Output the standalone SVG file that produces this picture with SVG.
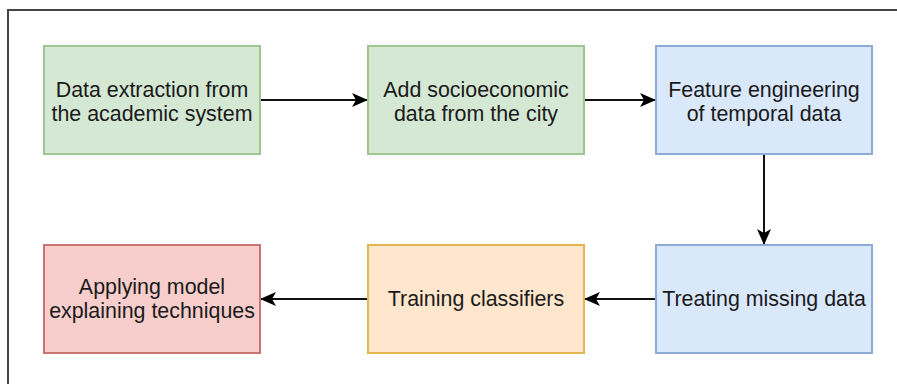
<svg xmlns="http://www.w3.org/2000/svg" width="897" height="384" viewBox="0 0 897 384">
  <style>
    .box { stroke-width: 2; }
    .green { fill: #d5e8d4; stroke: #9cc78f; }
    .blue { fill: #dae8fc; stroke: #8eaad6; }
    .orange { fill: #ffe6cc; stroke: #e3b652; }
    .red { fill: #f8cecc; stroke: #c97672; }
    .label { font-family: "Liberation Sans", Arial, sans-serif; font-size: 21.4px; fill: #1a1a1a; text-anchor: middle; }
    .edge { fill: none; stroke: #111; stroke-width: 2; marker-end: url(#arrow); }
    .frame { fill: none; stroke: #444; stroke-width: 2; }
  </style>
  <defs>
    <marker id="arrow" viewBox="0 0 16 14" refX="15" refY="7" markerWidth="16" markerHeight="14" markerUnits="userSpaceOnUse" orient="auto">
      <path d="M0,0 L16,7 L0,14 L4,7 Z" fill="#000"/>
    </marker>
  </defs>
  <rect width="897" height="384" fill="#fff"/>

  <!-- page frame -->
  <path class="frame" d="M8,384 V10 H897"/>

  <!-- connectors -->
  <g id="connectors">
    <path class="edge" d="M260,100 H367"/>
    <path class="edge" d="M584,100 H655"/>
    <path class="edge" d="M764,154 V244"/>
    <path class="edge" d="M656,299 H585"/>
    <path class="edge" d="M368,299 H261"/>
  </g>

  <g id="extract">
    <rect class="box green" x="44" y="46" width="216" height="108"/>
    <text class="label" x="152" y="97">Data extraction from</text>
    <text class="label" x="152" y="121">the academic system</text>
  </g>
  <g id="socio">
    <rect class="box green" x="368" y="46" width="216" height="108"/>
    <text class="label" x="476" y="97">Add socioeconomic</text>
    <text class="label" x="476" y="121">data from the city</text>
  </g>
  <g id="feature">
    <rect class="box blue" x="656" y="46" width="216" height="108"/>
    <text class="label" x="764" y="97">Feature engineering</text>
    <text class="label" x="764" y="121">of temporal data</text>
  </g>
  <g id="missing">
    <rect class="box blue" x="656" y="245" width="216" height="108"/>
    <text class="label" x="764" y="306">Treating missing data</text>
  </g>
  <g id="training">
    <rect class="box orange" x="368" y="245" width="216" height="108"/>
    <text class="label" x="476" y="306">Training classifiers</text>
  </g>
  <g id="explain">
    <rect class="box red" x="44" y="245" width="216" height="108"/>
    <text class="label" x="152" y="294">Applying model</text>
    <text class="label" x="152" y="318">explaining techniques</text>
  </g>
</svg>
